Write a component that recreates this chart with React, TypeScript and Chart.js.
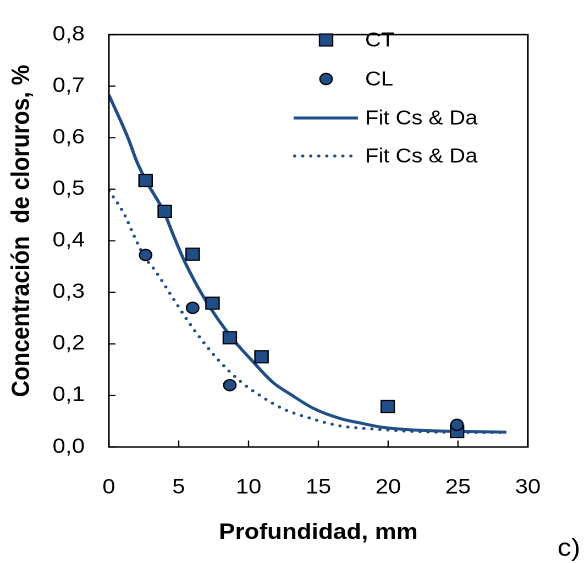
import React, { useEffect, useRef } from "react";
import { Chart, registerables } from "chart.js";

Chart.register(...registerables);

// ---- data ----
const ctX = [2.63, 4.0, 6.0, 7.42, 8.66, 10.93, 19.97, 24.93];
const ctY = [0.517, 0.457, 0.374, 0.279, 0.212, 0.175, 0.0785, 0.03];

const clX = [2.63, 6.0, 8.66, 24.93];
const clY = [0.3725, 0.27, 0.12, 0.043];

const fitCtX = [0, 1.38, 1.98, 2.63, 3.96, 4.6, 5.44, 6.87, 8.78, 10.2, 11.76, 12.96, 14.62, 16.54, 18.2, 19.64, 21.79, 28.47];
const fitCtY = [0.683, 0.599, 0.555, 0.518, 0.455, 0.412, 0.359, 0.287, 0.2125, 0.169, 0.125, 0.103, 0.0753, 0.0555, 0.0455, 0.038, 0.033, 0.0287];

const fitClX = [0, 0.67, 1.15, 1.86, 2.58, 3.29, 4.49, 5.68, 6.87, 7.83, 9.38, 10.81, 12.48, 14.15, 16.54, 18.92, 23.2, 28.47];
const fitClY = [0.497, 0.471, 0.449, 0.406, 0.368, 0.343, 0.293, 0.2435, 0.2, 0.169, 0.128, 0.1, 0.074, 0.058, 0.041, 0.035, 0.029, 0.028];

const xTicks = [0, 5, 10, 15, 20, 25, 30];
const yTicks = [0, 0.1, 0.2, 0.3, 0.4, 0.5, 0.6, 0.7, 0.8];

const legendLabels = ["CT", "CL", "Fit Cs & Da", "Fit Cs & Da"];
const xTitle = "Profundidad, mm";
const yTitle = "Concentración  de cloruros, %";
const panelLabel = "c)";

const toPts = (xs: number[], ys: number[]) => xs.map((x, i) => ({ x, y: ys[i] }));

// ---- look ----
const W = 532; // internal width (stretched horizontally to 585 like the reference)
const H = 563;
const BLUE = "#1F4E89";
const FONT = "'Liberation Sans', Arial, sans-serif";

export default function App() {
  const ref = useRef<HTMLCanvasElement | null>(null);

  useEffect(() => {
    const canvas = ref.current;
    if (!canvas) return;

    const decor = {
      id: "decor",
      afterDraw(chart: any) {
        const ctx = chart.ctx as CanvasRenderingContext2D;
        const a = chart.chartArea;
        const xs = chart.scales.x;
        const ys = chart.scales.y;
        ctx.save();
        // frame
        ctx.strokeStyle = "#000";
        ctx.lineWidth = 1.5;
        ctx.strokeRect(a.left, a.top, a.right - a.left, a.bottom - a.top);
        // inward ticks
        ctx.lineWidth = 1.2;
        ctx.beginPath();
        xTicks.forEach((t) => {
          const px = xs.getPixelForValue(t);
          ctx.moveTo(px, a.bottom);
          ctx.lineTo(px, a.bottom - 6.5);
        });
        yTicks.forEach((t) => {
          const py = ys.getPixelForValue(t);
          ctx.moveTo(a.left, py);
          ctx.lineTo(a.left + 6, py);
        });
        ctx.stroke();

        // legend
        const mx = 296.5;
        const lx0 = 267;
        const lx1 = 325.5;
        const tx = 332;
        const rows = [40, 79, 118, 156];
        ctx.fillStyle = BLUE;
        ctx.strokeStyle = "#000";
        ctx.lineWidth = 1.2;
        ctx.fillRect(mx - 6, rows[0] - 6, 12, 12);
        ctx.strokeRect(mx - 6, rows[0] - 6, 12, 12);
        ctx.beginPath();
        ctx.arc(mx, rows[1], 5.6, 0, Math.PI * 2);
        ctx.fill();
        ctx.stroke();
        ctx.strokeStyle = BLUE;
        ctx.lineWidth = 3;
        ctx.lineCap = "butt";
        ctx.beginPath();
        ctx.moveTo(lx0, rows[2]);
        ctx.lineTo(lx1, rows[2]);
        ctx.stroke();
        ctx.lineWidth = 3;
        ctx.lineCap = "round";
        ctx.setLineDash([0, 7.3]);
        ctx.beginPath();
        ctx.moveTo(lx0 + 1, rows[3]);
        ctx.lineTo(lx1, rows[3]);
        ctx.stroke();
        ctx.setLineDash([]);
        ctx.fillStyle = "#000";
        ctx.font = `20px ${FONT}`;
        ctx.textAlign = "left";
        ctx.textBaseline = "middle";
        legendLabels.forEach((t, i) => ctx.fillText(t, tx, rows[i] + 1));

        // axis titles
        ctx.font = `bold 22px ${FONT}`;
        ctx.textAlign = "center";
        ctx.textBaseline = "middle";
        ctx.fillText(xTitle, (a.left + a.right) / 2, 533);
        ctx.save();
        ctx.translate(20, 231);
        ctx.rotate(-Math.PI / 2);
        ctx.font = `bold 23px ${FONT}`;
        ctx.fillText(yTitle, 0, 0);
        ctx.restore();

        // panel label
        ctx.font = `25px ${FONT}`;
        ctx.textAlign = "left";
        ctx.textBaseline = "alphabetic";
        ctx.fillText(panelLabel, 507, 556);
        ctx.restore();
      },
    };

    const chart = new Chart(canvas, {
      type: "scatter",
      data: {
        datasets: [
          {
            label: legendLabels[1],
            data: toPts(clX, clY),
            showLine: false,
            pointStyle: "circle",
            pointRadius: 5.6,
            pointBackgroundColor: BLUE,
            pointBorderColor: "#000",
            pointBorderWidth: 1.2,
            order: 0,
          },
          {
            label: legendLabels[0],
            data: toPts(ctX, ctY),
            showLine: false,
            pointStyle: "rect",
            pointRadius: 8.5,
            pointBackgroundColor: BLUE,
            pointBorderColor: "#000",
            pointBorderWidth: 1.2,
            order: 1,
          },
          {
            label: legendLabels[2],
            data: toPts(fitCtX, fitCtY),
            showLine: true,
            pointRadius: 0,
            borderColor: BLUE,
            borderWidth: 3,
            cubicInterpolationMode: "monotone",
            order: 2,
          },
          {
            label: legendLabels[3],
            data: toPts(fitClX, fitClY),
            showLine: true,
            pointRadius: 0,
            borderColor: BLUE,
            borderWidth: 3,
            borderDash: [0, 7.3],
            borderCapStyle: "round",
            cubicInterpolationMode: "monotone",
            order: 3,
          },
        ],
      } as any,
      options: {
        animation: false,
        responsive: false,
        devicePixelRatio: 2,
        events: [],
        layout: { padding: { left: 0, top: 19, right: 52, bottom: 0 } },
        plugins: {
          legend: { display: false },
          tooltip: { enabled: false },
          title: { display: false },
        },
        scales: {
          x: {
            type: "linear",
            min: 0,
            max: 30,
            grid: { display: false, drawTicks: false },
            border: { display: false },
            afterBuildTicks: (s: any) => {
              s.ticks = xTicks.map((v) => ({ value: v }));
            },
            afterFit: (s: any) => {
              s.height = 116;
            },
            ticks: {
              padding: 28,
              color: "#000",
              font: { family: FONT, size: 21 },
              maxRotation: 0,
              callback: (v: any) => String(v),
            },
          },
          y: {
            type: "linear",
            min: 0,
            max: 0.8,
            grid: { display: false, drawTicks: false },
            border: { display: false },
            afterBuildTicks: (s: any) => {
              s.ticks = yTicks.map((v) => ({ value: v }));
            },
            afterFit: (s: any) => {
              s.width = 99;
            },
            ticks: {
              padding: 22,
              color: "#000",
              font: { family: FONT, size: 21 },
              callback: (v: any) => Number(v).toFixed(1).replace(".", ","),
            },
          },
        },
      } as any,
      plugins: [decor],
    });

    return () => chart.destroy();
  }, []);

  return (
    <div style={{ position: "absolute", left: 0, top: 0, width: 585, height: 563, background: "#fff" }}>
      <canvas
        ref={ref}
        width={W}
        height={H}
        style={{ width: "585px", height: "563px", display: "block" }}
      />
    </div>
  );
}
